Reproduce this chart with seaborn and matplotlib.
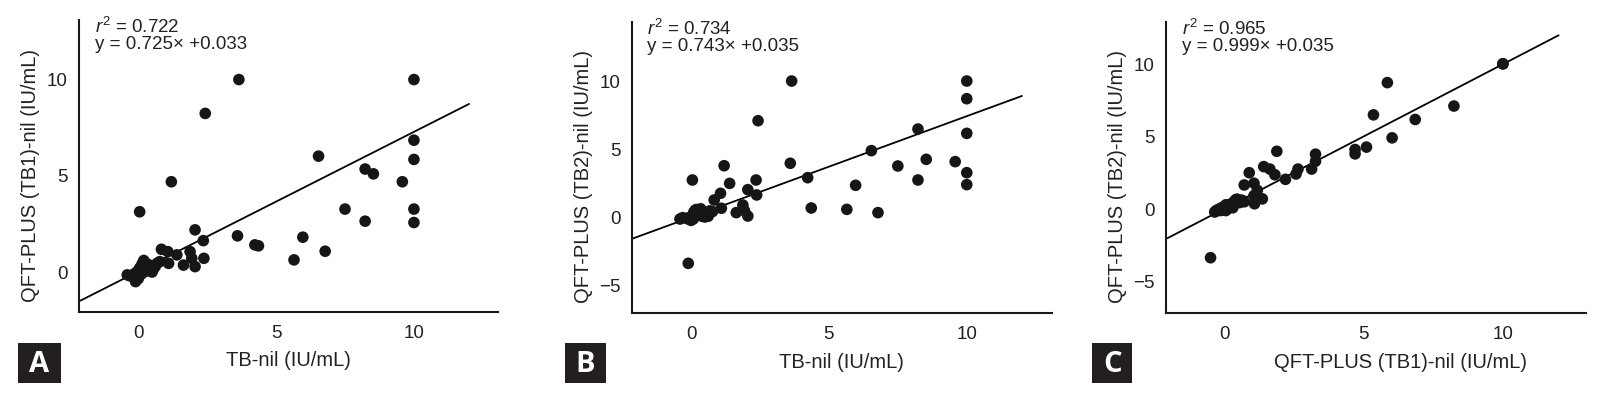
import matplotlib
matplotlib.use("Agg")
import matplotlib.pyplot as plt
import numpy as np
import pandas as pd
import seaborn as sns

sns.set_style("white")
plt.rcParams['font.family'] = ['Liberation Sans', 'DejaVu Sans']
plt.rcParams['mathtext.fontset'] = 'custom'
plt.rcParams['mathtext.rm'] = 'Liberation Sans'
plt.rcParams['mathtext.it'] = 'Liberation Sans:italic'

# one row per subject: TB-nil, QFT-PLUS TB1-nil, QFT-PLUS TB2-nil (IU/mL)
tb_nil = [3.65, 10.0, 10.0, 2.43, 8.23, 10.0, 6.54, 8.53, 9.58, 1.2,
          3.6, 7.5, 10.0, 0.05, 8.23, 10.0, 2.06, 4.23, 2.36, 5.97,
          1.4, 2.38, 4.36, 5.65, 6.78, -0.1, 1.07, 0.84, 1.64, 1.88,
          1.94, 2.06, 1.1, 0.78,
          -0.15, -0.1, -0.05, 0.0, 0.02, 0.05, 0.08, 0.1, 0.12, 0.15,
          0.18, 0.2, 0.25, 0.3, 0.35, 0.4, 0.5, 0.55, 0.62, 0.68, -0.3, -0.4]
tb1_nil = [10.0, 10.0, 5.85, 8.24, 5.35, 6.85, 6.02, 5.1, 4.69, 4.69,
           1.88, 3.27, 3.27, 3.13, 2.64, 2.57, 2.19, 1.41, 1.63, 1.81,
           0.89, 0.71, 1.36, 0.63, 1.08, -0.5, 1.06, 1.18, 0.36, 1.06,
           0.71, 0.28, 0.45, 0.54,
           -0.1, -0.3, 0.0, -0.35, 0.1, 0.2, 0.05, 0.3, -0.1, 0.45,
           0.15, 0.6, 0.3, 0.05, 0.4, 0.2, 0.0, 0.15, 0.3, 0.45, -0.2, -0.15]
tb2_nil = [10.05, 10.05, 8.75, 7.13, 6.52, 6.2, 4.93, 4.29, 4.12, 3.82,
           4.0, 3.8, 3.31, 2.77, 2.77, 2.43, 2.06, 2.94, 2.77, 2.38,
           2.52, 1.67, 0.71, 0.61, 0.37, -3.36, 1.79, 1.3, 0.37, 0.93,
           0.51, 0.12, 0.69, 0.45,
           -0.05, -0.1, 0.0, -0.2, 0.05, 0.15, -0.1, 0.4, 0.1, 0.55,
           0.2, 0.6, 0.45, 0.3, 0.65, 0.1, 0.05, 0.3, 0.1, 0.5, 0.0, -0.1]

panel_letters = ['A', 'B', 'C']
x_cols = ['tb', 'tb', 'tb1']
y_cols = ['tb1', 'tb2', 'tb2']
x_labels = ['TB-nil (IU/mL)', 'TB-nil (IU/mL)', 'QFT-PLUS (TB1)-nil (IU/mL)']
y_labels = ['QFT-PLUS (TB1)-nil (IU/mL)', 'QFT-PLUS (TB2)-nil (IU/mL)',
            'QFT-PLUS (TB2)-nil (IU/mL)']
r_squared = ['0.722', '0.734', '0.965']
slopes = [0.725, 0.743, 0.999]
intercepts = [0.033, 0.035, 0.035]
x_ticks = [0, 5, 10]
y_ticks = [[0, 5, 10], [-5, 0, 5, 10], [-5, 0, 5, 10]]

df = pd.DataFrame({'tb': tb_nil, 'tb1': tb1_nil, 'tb2': tb2_nil})

fig = plt.figure(figsize=(16.19, 3.98), dpi=100)

ax_rects = [[0.0488, 0.216, 0.2588, 0.734],
            [0.3902, 0.213, 0.2594, 0.732],
            [0.7202, 0.213, 0.2597, 0.732]]
xlims = [(-2.15, 13.05), (-2.15, 13.08), (-2.1, 13.0)]
ylims = [(-2.08, 13.1), (-7.03, 14.4), (-7.2, 12.95)]
xlabel_x = [0.5, 0.5, 0.558]
box_rects = [[0.0111, 0.038, 0.0265, 0.1],
             [0.3490, 0.038, 0.0250, 0.1],
             [0.6745, 0.038, 0.0250, 0.1]]
ink = '#161616'

for i in range(3):
    ax = fig.add_axes(ax_rects[i])
    sns.scatterplot(data=df, x=x_cols[i], y=y_cols[i], ax=ax, s=70,
                    color=ink, edgecolor='none', linewidth=0, zorder=3)
    lx = np.array([xlims[i][0] + 0.05, 12.0])
    line_df = pd.DataFrame({'x': lx, 'y': slopes[i] * lx + intercepts[i]})
    sns.lineplot(data=line_df, x='x', y='y', ax=ax, color='black', lw=1.3,
                 zorder=2)
    ax.set_xlim(xlims[i])
    ax.set_ylim(ylims[i])
    ax.set_xticks(x_ticks)
    ax.set_yticks(y_ticks[i])
    ax.tick_params(length=0, labelsize=13.5, labelcolor='#222222')
    ax.tick_params(axis='x', pad=9)
    ax.tick_params(axis='y', pad=8)
    sns.despine(ax=ax)
    for sp in ['left', 'bottom']:
        ax.spines[sp].set_linewidth(1.5)
        ax.spines[sp].set_color('#1a1a1a')
    ax.set_xlabel(x_labels[i], fontsize=14.5, color='#222222')
    ax.set_ylabel(y_labels[i], fontsize=14.5, color='#222222')
    ax.yaxis.set_label_coords(-0.093, 0.468)
    ax.xaxis.set_label_coords(xlabel_x[i], -0.135)
    ax.text(0.037, 1.01, r'$r^2$ = ' + r_squared[i] + '\ny = %.3f\u00d7 +%.3f' % (slopes[i], intercepts[i]),
            transform=ax.transAxes, ha='left', va='top', fontsize=13.5,
            linespacing=0.92, color='#222222')

    bax = fig.add_axes(box_rects[i])
    bax.set_facecolor('#231f20')
    bax.set_xticks([])
    bax.set_yticks([])
    for sp in bax.spines.values():
        sp.set_visible(False)
    bax.text(0.5, 0.47, panel_letters[i], transform=bax.transAxes, ha='center',
             va='center', color='white', fontsize=21, fontweight='bold',
             family=['Open Sans', 'DejaVu Sans'])

fig.savefig('out.png', dpi=100)
